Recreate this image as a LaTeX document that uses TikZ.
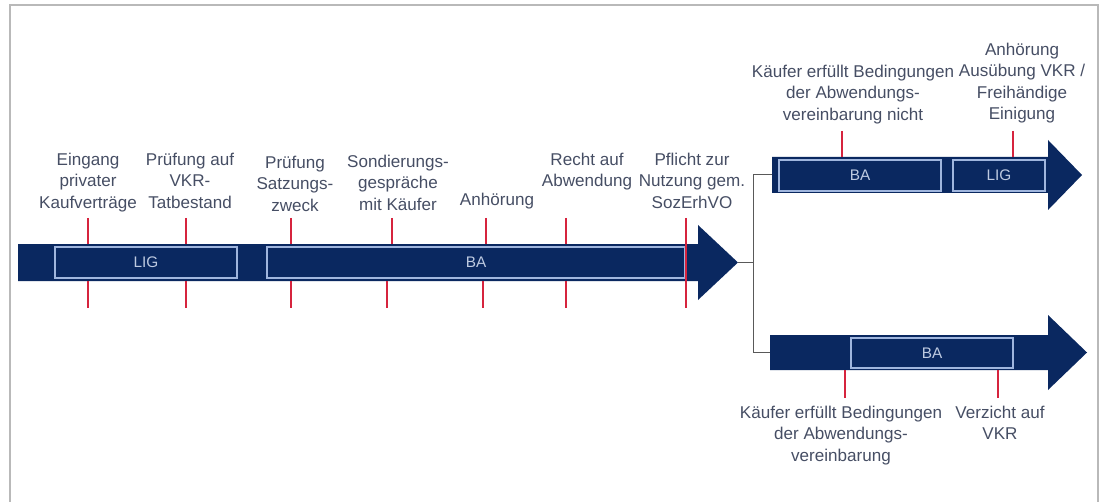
\documentclass[tikz,border=0pt]{standalone}
\usepackage{fontspec}
\setmainfont{Liberation Sans}
\usepackage{tikz}

\definecolor{barnavy}{RGB}{10,40,96}
\definecolor{boxline}{RGB}{160,182,222}
\definecolor{boxtext}{RGB}{190,202,225}
\definecolor{labeltext}{RGB}{70,78,100}
\definecolor{tickred}{RGB}{214,36,62}
\definecolor{framegray}{RGB}{185,185,185}

\tikzset{
  barshape/.style={fill=barnavy, draw=none},
  phasebox/.style={draw=boxline, line width=1.1pt},
  phaselabel/.style={text=boxtext, inner sep=0.75pt, font=\fontsize{11.5}{14}\selectfont},
  steplabel/.style={text=labeltext, inner sep=0.75pt, align=center, anchor=north, font=\fontsize{12.8}{16}\selectfont},
  redtick/.style={draw=tickred, line width=1.5pt},
  forkline/.style={draw=black!65, line width=0.75pt}
}

\begin{document}
\begin{tikzpicture}[x=0.75pt,y=0.75pt,yscale=-1,xscale=1]
\useasboundingbox (0,0) rectangle (1105,502);

%Frame
\draw [draw=framegray, line width=1.5pt] (10,502) -- (10,5) -- (1098,5) -- (1098,502) ;

%Main arrow
\fill [barshape] (18,244) -- (698,244) -- (698,225) -- (738,262.5) -- (698,300) -- (698,281) -- (18,281) -- cycle ;
\coordinate (maintip) at (738,262.5) ;
%Upper arrow
\fill [barshape] (772,157) -- (1048,157) -- (1048,140) -- (1082,175) -- (1048,210) -- (1048,193) -- (772,193) -- cycle ;
\coordinate (uptail) at (772,175) ;
%Lower arrow
\fill [barshape] (770,335) -- (1048,335) -- (1048,315) -- (1087,352.5) -- (1048,390) -- (1048,370) -- (770,370) -- cycle ;
\coordinate (lowtail) at (770,352.5) ;

%Fork
\coordinate (fork) at (753,262.5) ;
\draw [forkline] (maintip) -- (fork) ;
\draw [forkline] (uptail) -| (fork) |- (lowtail) ;

%Phase boxes
\draw [phasebox] (55,247) rectangle (237,278) ;
\node [phaselabel] (lig1) at (146,262.5) {LIG};
\draw [phasebox] (267,247) rectangle (685,278) ;
\node [phaselabel] (ba1) at (476,262.5) {BA};
\draw [phasebox] (779,160) rectangle (941,191) ;
\node [phaselabel] (ba2) at (860,175.5) {BA};
\draw [phasebox] (953,160) rectangle (1045,191) ;
\node [phaselabel] (lig2) at (999,175.5) {LIG};
\draw [phasebox] (851,338) rectangle (1013,368) ;
\node [phaselabel] (ba3) at (932,353) {BA};

%Ticks main arrow
\draw [redtick] (88,218) -- (88,244) (88,281) -- (88,308) ;
\draw [redtick] (186,218) -- (186,244) (186,281) -- (186,308) ;
\draw [redtick] (291,218) -- (291,244) (291,281) -- (291,308) ;
\draw [redtick] (392,218) -- (392,244) (387,281) -- (387,308) ;
\draw [redtick] (486,218) -- (486,244) (483,281) -- (483,308) ;
\draw [redtick] (566,218) -- (566,244) (566,281) -- (566,308) ;
\draw [redtick] (686,218) -- (686,308) ;
%Ticks upper arrow
\draw [redtick] (842,131) -- (842,157) ;
\draw [redtick] (1013,131) -- (1013,157) ;
%Ticks lower arrow
\draw [redtick] (845,370) -- (845,398) ;
\draw [redtick] (998,370) -- (998,398) ;

% Text Node
\node [steplabel] (eingang) at (88,152) {Eingang\\privater\\Kaufverträge};
% Text Node
\node [steplabel] (pruefvkr) at (190,152) {Prüfung auf\\VKR-\\Tatbestand};
% Text Node
\node [steplabel] (pruefzweck) at (295,155) {Prüfung\\Satzungs-\\zweck};
% Text Node
\node [steplabel] (sondierung) at (398,154) {Sondierungs-\\gespräche\\mit Käufer};
% Text Node
\node [steplabel] (anhoerung) at (497,192) {Anhörung};
% Text Node
\node [steplabel] (abwendung) at (587,152) {Recht auf\\Abwendung};
% Text Node
\node [steplabel] (pflicht) at (692,152) {Pflicht zur\\Nutzung gem.\\SozErhVO};
% Text Node
\node [steplabel] (nichterfuellt) at (853,64) {Käufer erfüllt Bedingungen\\der Abwendungs-\\vereinbarung nicht};
% Text Node
\node [steplabel] (ausuebung) at (1022,42) {Anhörung\\Ausübung VKR /\\Freihändige\\Einigung};
% Text Node
\node [steplabel] (erfuellt) at (841,405) {Käufer erfüllt Bedingungen\\der Abwendungs-\\vereinbarung};
% Text Node
\node [steplabel] (verzicht) at (1000,405) {Verzicht auf\\VKR};

\end{tikzpicture}
\end{document}
